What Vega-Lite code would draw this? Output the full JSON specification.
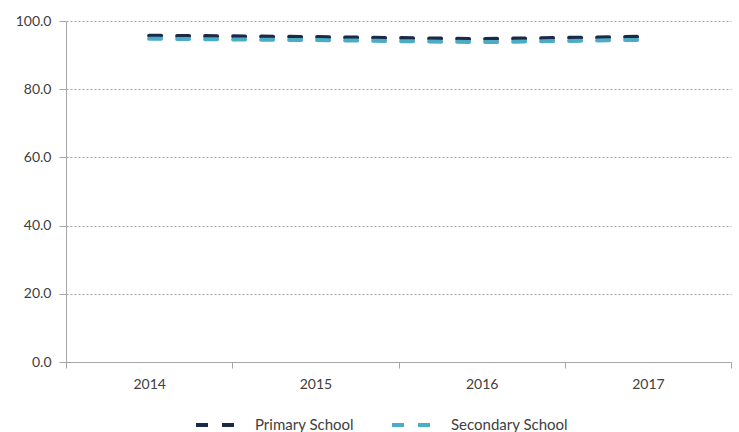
{
  "$schema": "https://vega.github.io/schema/vega-lite/v6.json",
  "width": 665,
  "height": 341,
  "autosize": {"type": "none"},
  "padding": {"left": 66, "top": 21, "right": 8, "bottom": 70},
  "background": "white",
  "config": {
    "font": "Lato",
    "view": {"stroke": null}
  },
  "data": {
    "values": [
      {"year": "2014", "school": "Primary School", "value": 95.7},
      {"year": "2015", "school": "Primary School", "value": 95.3},
      {"year": "2016", "school": "Primary School", "value": 94.7},
      {"year": "2017", "school": "Primary School", "value": 95.4},
      {"year": "2014", "school": "Secondary School", "value": 94.8},
      {"year": "2015", "school": "Secondary School", "value": 94.4},
      {"year": "2016", "school": "Secondary School", "value": 93.8},
      {"year": "2017", "school": "Secondary School", "value": 94.5}
    ]
  },
  "mark": {"type": "line", "strokeWidth": 4, "strokeDash": [12, 16], "strokeCap": "round"},
  "encoding": {
    "x": {
      "field": "year",
      "type": "nominal",
      "scale": {"type": "band", "paddingInner": 0, "paddingOuter": 0},
      "axis": {
        "title": null,
        "labelAngle": 0,
        "tickBand": "extent",
        "domainColor": "#a6a6a6",
        "tickColor": "#a6a6a6",
        "tickSize": 6,
        "labelPadding": 9,
        "labelFontSize": 14,
        "labelColor": "#404040",
        "grid": false
      }
    },
    "y": {
      "field": "value",
      "type": "quantitative",
      "scale": {"domain": [0, 100], "nice": false, "zero": true},
      "axis": {
        "title": null,
        "values": [0, 20, 40, 60, 80, 100],
        "format": ".1f",
        "domainColor": "#a6a6a6",
        "tickColor": "#a6a6a6",
        "tickSize": 7,
        "labelPadding": 8,
        "labelFontSize": 14,
        "labelColor": "#404040",
        "grid": true,
        "gridColor": "#8c8c8c",
        "gridDash": [2, 2],
        "gridWidth": 0.8
      }
    },
    "color": {
      "field": "school",
      "type": "nominal",
      "scale": {"domain": ["Primary School", "Secondary School"], "range": ["#1b2a47", "#4bacc6"]},
      "legend": {
        "title": null,
        "orient": "none",
        "direction": "horizontal",
        "legendX": 128,
        "legendY": 381,
        "symbolType": "stroke",
        "symbolSize": 1764,
        "symbolStrokeWidth": 4,
        "symbolDash": [12, 14],
        "labelFontSize": 15,
        "labelColor": "#404040",
        "labelOffset": 15,
        "columnPadding": 30
      }
    }
  }
}
